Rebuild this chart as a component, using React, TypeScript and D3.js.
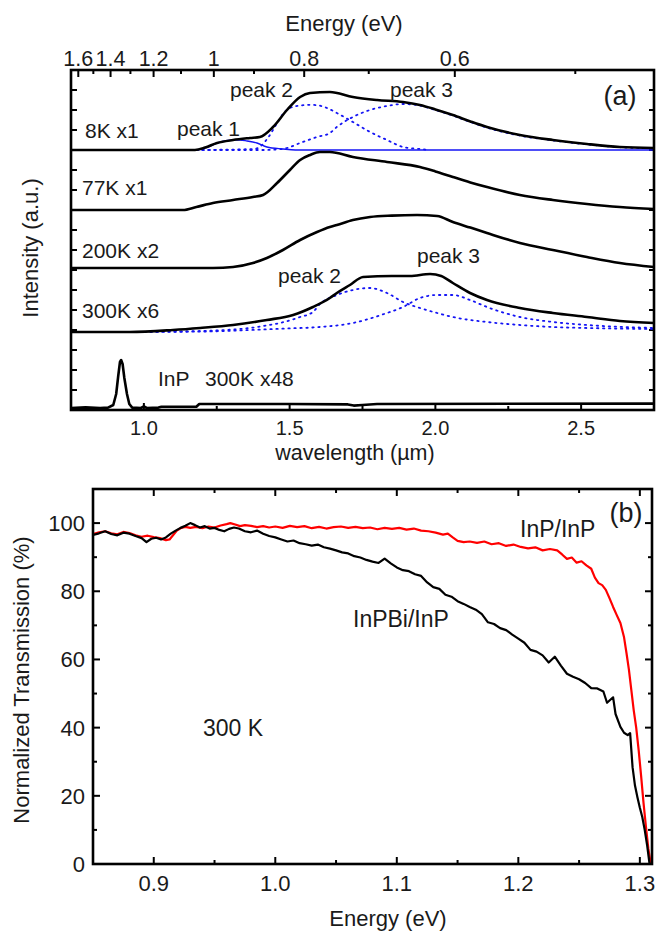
import React from 'react';
import * as d3 from 'd3';

const FONT = 'Arial, "Liberation Sans", Helvetica, sans-serif';

// ---------- Panel (a) : PL spectra vs wavelength ----------
const wlMajor = [1.0, 1.5, 2.0, 2.5];
const wlMinor = [1.25, 1.75, 2.25];
const evMajor = [1.6, 1.4, 1.2, 1.0, 0.8, 0.6];
const evMajorLabels = ['1.6', '1.4', '1.2', '1', '0.8', '0.6'];
const evMinor = [1.5, 1.3, 1.1, 0.9, 0.7, 0.5];
const intensityTicks = [1, 2, 3, 4, 5, 6, 7, 8, 9, 10, 11, 12, 13, 14, 15, 16];

const spectrumNames = ['8K x1', '77K x1', '200K x2', '300K x6', 'InP 300K x48'];
const spectrumOffsets = [13, 10, 7.1, 3.9, 0.1];

const s8K: [number, number][] = [
  [0.75, 0], [1.0, 0], [1.175, 0], [1.21, 0.12], [1.251, 0.35], [1.306, 0.5], [1.364, 0.6],
  [1.398, 0.65], [1.443, 1.15], [1.491, 2.0], [1.536, 2.65], [1.57, 2.85], [1.638, 2.9],
  [1.717, 2.65], [1.8, 2.5], [1.889, 2.4], [1.947, 2.25], [2.0, 2.03], [2.06, 1.75],
  [2.12, 1.43], [2.177, 1.15], [2.29, 0.75], [2.403, 0.5], [2.52, 0.3], [2.633, 0.15], [2.75, 0.1],
];
const s77K: [number, number][] = [
  [0.75, 0], [1.134, 0], [1.18, 0.15], [1.237, 0.35], [1.306, 0.5], [1.374, 0.65], [1.409, 0.75],
  [1.457, 1.35], [1.501, 2.0], [1.536, 2.5], [1.57, 2.75], [1.604, 2.9], [1.638, 2.9],
  [1.717, 2.65], [1.834, 2.4], [1.947, 2.15], [2.0, 1.93], [2.06, 1.65], [2.12, 1.38],
  [2.177, 1.15], [2.29, 0.75], [2.403, 0.5], [2.52, 0.3], [2.633, 0.15], [2.75, 0.05],
];
const s200K: [number, number][] = [
  [0.75, 0], [1.237, 0], [1.306, 0.05], [1.374, 0.25], [1.422, 0.5], [1.477, 0.9], [1.536, 1.4],
  [1.594, 1.8], [1.638, 2.05], [1.662, 2.15], [1.717, 2.4], [1.776, 2.55], [1.85, 2.62],
  [1.937, 2.65], [2.006, 2.6], [2.06, 2.3], [2.12, 2.02], [2.177, 1.75], [2.29, 1.25],
  [2.403, 0.9], [2.52, 0.55], [2.633, 0.25], [2.75, 0.05],
];
const s300K: [number, number][] = [
  [0.75, 0], [0.952, 0], [1.1, 0.1], [1.193, 0.2], [1.306, 0.35], [1.422, 0.6], [1.512, 0.85],
  [1.58, 1.25], [1.638, 1.7], [1.662, 1.95], [1.707, 2.35], [1.752, 2.75], [1.85, 2.8],
  [1.913, 2.8], [1.982, 2.9], [2.02, 2.8], [2.06, 2.45], [2.119, 1.95], [2.177, 1.6],
  [2.29, 1.2], [2.403, 0.95], [2.52, 0.75], [2.633, 0.55], [2.75, 0.45],
];
const sInP: [number, number][] = [
  [0.75, 0], [0.8, 0.03], [0.85, 0], [0.877, 0.02], [0.895, 0.15], [0.905, 0.7], [0.912, 1.6],
  [0.918, 2.3], [0.922, 2.4], [0.927, 2.2], [0.933, 1.5], [0.942, 0.7], [0.95, 0.2], [0.96, 0.02],
  [0.99, 0], [1.0, 0.08], [1.01, 0], [1.05, 0.02], [1.06, 0.06], [1.18, 0.06], [1.19, 0.2],
  [1.5, 0.2], [1.7, 0.18], [1.72, 0.12], [1.75, 0.15], [1.8, 0.2], [2.75, 0.22],
];
const spectra = [s8K, s77K, s200K, s300K, sInP];

// Gaussian fit components (8K): peak 1 solid, peaks 2 & 3 dotted
const fit8Kpeak1: [number, number][] = [
  [1.182, 0], [1.22, 0.15], [1.251, 0.35], [1.306, 0.5], [1.33, 0.5], [1.354, 0.45],
  [1.388, 0.35], [1.422, 0.15], [1.477, 0.05], [1.52, 0], [2.75, 0],
];
const fit8Kpeak2: [number, number][] = [
  [1.18, 0], [1.38, 0.05], [1.405, 0.25], [1.43, 0.7], [1.457, 1.35], [1.48, 1.85], [1.501, 2.1],
  [1.536, 2.22], [1.565, 2.26], [1.594, 2.24], [1.625, 2.12], [1.662, 1.85], [1.717, 1.4], [1.776, 0.9],
  [1.834, 0.5], [1.889, 0.15], [1.947, 0.05], [1.98, 0],
];
const fit8Kpeak3: [number, number][] = [
  [1.18, 0], [1.4, 0], [1.477, 0.05], [1.491, 0.1], [1.536, 0.35], [1.594, 0.65], [1.638, 0.85],
  [1.662, 1.15], [1.717, 1.65], [1.776, 2.0], [1.834, 2.2], [1.889, 2.3], [1.937, 2.25],
  [2.0, 2.0], [2.06, 1.72], [2.12, 1.4], [2.177, 1.12], [2.29, 0.72], [2.403, 0.48],
  [2.52, 0.28], [2.633, 0.14], [2.75, 0.08],
];
// Gaussian fit components (300K)
const fit300Kpeak2: [number, number][] = [
  [0.94, 0], [1.193, 0.05], [1.3, 0.12], [1.364, 0.2], [1.42, 0.32], [1.467, 0.45], [1.536, 0.75],
  [1.58, 1.0], [1.604, 1.4], [1.662, 1.85], [1.717, 2.1], [1.776, 2.2], [1.834, 1.95],
  [1.889, 1.5], [1.947, 1.2], [2.006, 0.95], [2.06, 0.75], [2.177, 0.5], [2.29, 0.35],
  [2.403, 0.25], [2.52, 0.2], [2.75, 0.15],
];
const fit300Kpeak3: [number, number][] = [
  [0.94, 0], [1.193, 0.02], [1.364, 0.1], [1.5, 0.18], [1.604, 0.25], [1.717, 0.45],
  [1.834, 0.95], [1.889, 1.25], [1.947, 1.7], [2.006, 1.85], [2.06, 1.85], [2.119, 1.6],
  [2.177, 1.25], [2.29, 0.75], [2.403, 0.5], [2.52, 0.35], [2.75, 0.2],
];

// ---------- Panel (b) : transmission vs energy ----------
const eMajor = [0.9, 1.0, 1.1, 1.2, 1.3];
const eMinor = [0.95, 1.05, 1.15, 1.25];
const tMajor = [0, 20, 40, 60, 80, 100];
const tMinor = [10, 30, 50, 70, 90];

const inpbiE = [
  0.85, 0.855, 0.86, 0.865, 0.87, 0.875, 0.88, 0.885, 0.89, 0.894, 0.898, 0.902, 0.906, 0.91,
  0.914, 0.918, 0.922, 0.926, 0.93, 0.934, 0.938, 0.942, 0.946, 0.95, 0.954, 0.958, 0.962,
  0.966, 0.97, 0.975, 0.98, 0.985, 0.99, 0.995, 1.0, 1.005, 1.01, 1.015, 1.02, 1.025, 1.03,
  1.035, 1.04, 1.045, 1.05, 1.055, 1.06, 1.065, 1.07, 1.075, 1.08, 1.085, 1.09, 1.095, 1.1,
  1.105, 1.11, 1.115, 1.12, 1.125, 1.13, 1.135, 1.14, 1.145, 1.15, 1.155, 1.16, 1.165, 1.17,
  1.175, 1.18, 1.185, 1.19, 1.195, 1.2, 1.205, 1.21, 1.215, 1.22, 1.225, 1.23, 1.235, 1.24,
  1.245, 1.25, 1.255, 1.26, 1.265, 1.27, 1.273, 1.278, 1.28, 1.284, 1.287, 1.29, 1.292, 1.294,
  1.296, 1.298, 1.3, 1.302, 1.304, 1.306, 1.308,
];
const inpbiT = [
  96.5, 97.0, 97.6, 96.8, 96.4, 97.2, 96.9, 96.2, 95.6, 94.4, 95.4, 95.7, 95.2, 95.8,
  96.9, 97.8, 98.6, 99.2, 100.0, 99.4, 98.7, 99.1, 98.4, 98.6, 98.0, 97.6, 98.3,
  98.7, 98.4, 97.6, 97.3, 97.8, 96.9, 96.2, 95.8, 95.2, 94.6, 94.9, 94.1, 93.8, 93.4,
  93.7, 92.9, 92.5, 92.0, 91.4, 91.1, 90.3, 89.9, 89.2, 88.7, 88.3, 89.6, 88.2, 87.0,
  86.2, 85.9, 85.0, 84.5, 82.6, 81.2, 80.7, 79.0, 78.4, 77.1, 76.3, 75.4, 74.6, 73.3,
  70.9, 70.4, 69.2, 68.6, 67.3, 66.1, 64.9, 62.8, 62.3, 61.2, 59.1, 60.8, 58.2, 55.8,
  54.9, 54.2, 53.1, 51.6, 51.5, 50.6, 47.3, 48.9, 44.0, 40.2, 38.5, 37.8, 38.4, 28.4,
  23.0, 19.6, 16.5, 13.8, 10.0, 5.5, 0.0,
];
const inpE = [
  0.85, 0.855, 0.86, 0.865, 0.87, 0.875, 0.88, 0.885, 0.89, 0.895, 0.9, 0.905, 0.91, 0.913,
  0.916, 0.919, 0.922, 0.926, 0.93, 0.935, 0.94, 0.945, 0.95, 0.955, 0.96, 0.963, 0.967,
  0.971, 0.975, 0.98, 0.985, 0.99, 0.995, 1.0, 1.006, 1.012, 1.018, 1.024, 1.03, 1.036,
  1.042, 1.048, 1.054, 1.06, 1.066, 1.072, 1.078, 1.084, 1.09, 1.096, 1.102, 1.108, 1.114,
  1.12, 1.126, 1.132, 1.138, 1.142, 1.146, 1.15, 1.155, 1.16, 1.166, 1.172, 1.178, 1.184,
  1.19, 1.196, 1.202, 1.208, 1.214, 1.22, 1.226, 1.232, 1.236, 1.24, 1.244, 1.248, 1.252,
  1.256, 1.26, 1.263, 1.266, 1.269, 1.272, 1.275, 1.278, 1.281, 1.284, 1.287, 1.289, 1.291,
  1.293, 1.295, 1.297, 1.299, 1.301, 1.303, 1.305, 1.307, 1.309,
];
const inpT = [
  96.8, 97.3, 97.6, 97.0, 96.7, 97.4, 97.1, 96.4, 96.0, 96.3, 95.9, 95.6, 95.0, 95.2,
  96.5, 97.8, 98.5, 98.9, 98.6, 98.9, 98.5, 99.0, 98.7, 99.3, 99.7, 100.0, 99.6,
  99.1, 99.4, 99.2, 98.8, 99.1, 98.7, 99.0, 98.6, 99.2, 98.8, 99.1, 98.5, 98.9,
  98.4, 98.8, 99.0, 98.6, 98.9, 98.5, 98.7, 98.2, 98.6, 98.3, 98.6, 98.1, 98.4,
  97.8, 97.6, 97.2, 96.6, 96.9, 95.8, 94.8, 94.4, 94.6, 94.2, 94.6, 93.8, 94.1,
  93.3, 93.7, 93.0, 92.6, 92.9, 92.0, 92.4, 92.0, 90.8, 89.5, 89.9, 88.4, 88.8,
  87.6, 86.6, 84.0, 82.4, 81.8, 80.4, 78.0, 75.4, 73.0, 70.7, 66.5, 61.9, 57.0,
  51.0, 45.0, 40.0, 33.5, 26.0, 18.0, 11.0, 4.5, 0.0,
];

// ---------- geometry ----------
const W = 657;
const H = 932;
const xA = d3.scaleLinear().domain([0.75, 2.75]).range([71, 654]);
const yA = d3.scaleLinear().domain([0, 17]).range([410, 70]);
const xB = d3.scaleLinear().domain([0.85, 1.31]).range([93, 652]);
const yB = d3.scaleLinear().domain([0, 110]).range([864, 489]);

const BLUE = '#1414f5';

function specPath(data: [number, number][], offset: number, smooth = true) {
  const g = d3
    .line<[number, number]>()
    .x((d) => xA(d[0]))
    .y((d) => yA(d[1] + offset));
  if (smooth) g.curve(d3.curveMonotoneX);
  return g(data) || '';
}

function transPath(es: number[], ts: number[]) {
  const pts: [number, number][] = es.map((e, i) => [e, ts[i]]);
  return (
    d3
      .line<[number, number]>()
      .x((d) => xB(d[0]))
      .y((d) => yB(d[1]))(pts) || ''
  );
}

const txt = (size: number): React.CSSProperties => ({ fontFamily: FONT, fontSize: size, fill: '#1a1a1a' });

export default function App() {
  const [xa0, xa1] = xA.range();
  const [ya0, ya1] = yA.range();
  const [xb0, xb1] = xB.range();
  const [yb0, yb1] = yB.range();
  const ev2wl = (e: number) => 1.24 / e;

  return (
    <svg
      width={W}
      height={H}
      viewBox={`0 0 ${W} ${H}`}
      style={{ position: 'absolute', left: 0, top: 0, background: '#fff' }}
    >
      <rect x={0} y={0} width={W} height={H} fill="#fff" />

      {/* ================= Panel (a) ================= */}
      <text x={344} y={31} textAnchor="middle" style={txt(22)}>Energy (eV)</text>

      {/* top energy axis */}
      {evMajor.map((e, i) => (
        <g key={'evM' + i}>
          <line x1={xA(ev2wl(e))} x2={xA(ev2wl(e))} y1={ya1} y2={ya1 + 7} stroke="#000" strokeWidth={2} />
          <text x={xA(ev2wl(e))} y={66} textAnchor="middle" style={txt(21.5)}>{evMajorLabels[i]}</text>
        </g>
      ))}
      {evMinor.map((e, i) => (
        <line key={'evm' + i} x1={xA(ev2wl(e))} x2={xA(ev2wl(e))} y1={ya1} y2={ya1 + 4} stroke="#000" strokeWidth={2} />
      ))}

      {/* bottom wavelength axis */}
      {wlMajor.map((w, i) => (
        <g key={'wlM' + i}>
          <line x1={xA(w)} x2={xA(w)} y1={ya0} y2={ya0 - 7} stroke="#000" strokeWidth={2} />
          <text x={xA(w)} y={435} textAnchor="middle" style={txt(20)}>{w.toFixed(1)}</text>
        </g>
      ))}
      {wlMinor.map((w, i) => (
        <line key={'wlm' + i} x1={xA(w)} x2={xA(w)} y1={ya0} y2={ya0 - 4} stroke="#000" strokeWidth={2} />
      ))}
      <text x={355} y={460} textAnchor="middle" style={txt(21.5)}>wavelength (µm)</text>

      {/* left/right intensity ticks */}
      {intensityTicks.map((t) => (
        <g key={'it' + t}>
          <line x1={xa0} x2={xa0 + 6} y1={yA(t)} y2={yA(t)} stroke="#000" strokeWidth={2} />
          <line x1={xa1} x2={xa1 - 5} y1={yA(t)} y2={yA(t)} stroke="#000" strokeWidth={2} />
        </g>
      ))}
      <text transform="translate(38,248) rotate(-90)" textAnchor="middle" style={txt(22)}>Intensity (a.u.)</text>

      {/* fit components */}
      <path d={specPath(fit8Kpeak1, spectrumOffsets[0])} fill="none" stroke={BLUE} strokeWidth={1.4} />
      {[fit8Kpeak2, fit8Kpeak3].map((f, i) => (
        <path key={'f8' + i} d={specPath(f, spectrumOffsets[0])} fill="none" stroke={BLUE} strokeWidth={1.8}
          strokeDasharray="1.4 4.6" strokeLinecap="round" />
      ))}
      {[fit300Kpeak2, fit300Kpeak3].map((f, i) => (
        <path key={'f3' + i} d={specPath(f, spectrumOffsets[3])} fill="none" stroke={BLUE} strokeWidth={1.8}
          strokeDasharray="1.4 4.6" strokeLinecap="round" />
      ))}

      {/* spectra */}
      {spectra.map((s, i) => (
        <path key={'sp' + i} d={specPath(s, spectrumOffsets[i], i !== 4)} fill="none" stroke="#000" strokeWidth={2.6}
          strokeLinejoin="round" />
      ))}

      {/* frame a */}
      <rect x={xa0} y={ya1} width={xa1 - xa0} height={ya0 - ya1} fill="none" stroke="#000" strokeWidth={2.6} />

      {/* labels a */}
      <text x={85} y={138} style={txt(21)}>{spectrumNames[0]}</text>
      <text x={82} y={195} style={txt(21)}>{spectrumNames[1]}</text>
      <text x={82} y={258} style={txt(21)}>{spectrumNames[2]}</text>
      <text x={82} y={318} style={txt(21)}>{spectrumNames[3]}</text>
      <text x={158} y={386} style={txt(21)}>InP</text>
      <text x={205} y={386} style={txt(21)}>300K x48</text>
      <text x={177} y={136} style={txt(21)}>peak 1</text>
      <text x={230} y={97} style={txt(21)}>peak 2</text>
      <text x={390} y={97} style={txt(21)}>peak 3</text>
      <text x={278} y={283} style={txt(21)}>peak 2</text>
      <text x={417} y={263} style={txt(21)}>peak 3</text>
      <text x={620} y={105} textAnchor="middle" style={txt(27)}>(a)</text>

      {/* ================= Panel (b) ================= */}
      {eMajor.map((e, i) => (
        <g key={'eM' + i}>
          <line x1={xB(e)} x2={xB(e)} y1={yb0} y2={yb0 - 7} stroke="#000" strokeWidth={2} />
          <line x1={xB(e)} x2={xB(e)} y1={yb1} y2={yb1 + 7} stroke="#000" strokeWidth={2} />
          <text x={xB(e)} y={891} textAnchor="middle" style={txt(22)}>{e.toFixed(1)}</text>
        </g>
      ))}
      {eMinor.map((e, i) => (
        <g key={'em' + i}>
          <line x1={xB(e)} x2={xB(e)} y1={yb0} y2={yb0 - 4} stroke="#000" strokeWidth={2} />
          <line x1={xB(e)} x2={xB(e)} y1={yb1} y2={yb1 + 4} stroke="#000" strokeWidth={2} />
        </g>
      ))}
      {tMajor.map((t, i) => (
        <g key={'tM' + i}>
          <line x1={xb0} x2={xb0 + 7} y1={yB(t)} y2={yB(t)} stroke="#000" strokeWidth={2} />
          <line x1={xb1} x2={xb1 - 7} y1={yB(t)} y2={yB(t)} stroke="#000" strokeWidth={2} />
          <text x={85} y={yB(t) + 8} textAnchor="end" style={txt(22)}>{t}</text>
        </g>
      ))}
      {tMinor.map((t, i) => (
        <g key={'tm' + i}>
          <line x1={xb0} x2={xb0 + 4} y1={yB(t)} y2={yB(t)} stroke="#000" strokeWidth={2} />
          <line x1={xb1} x2={xb1 - 4} y1={yB(t)} y2={yB(t)} stroke="#000" strokeWidth={2} />
        </g>
      ))}

      <path d={transPath(inpE, inpT)} fill="none" stroke="#ff0000" strokeWidth={2.2} strokeLinejoin="round" />
      <path d={transPath(inpbiE, inpbiT)} fill="none" stroke="#000" strokeWidth={2.2} strokeLinejoin="round" />

      <rect x={xb0} y={yb1} width={xb1 - xb0} height={yb0 - yb1} fill="none" stroke="#000" strokeWidth={2.6} />

      <text transform="translate(29,680) rotate(-90)" textAnchor="middle" style={txt(22)}>Normalized Transmission (%)</text>
      <text x={388} y={926} textAnchor="middle" style={txt(22)}>Energy (eV)</text>
      <text x={626} y={522} textAnchor="middle" style={txt(27)}>(b)</text>
      <text x={520} y={537} style={txt(23)}>InP/InP</text>
      <text x={353} y={627} style={txt(23)}>InPBi/InP</text>
      <text x={203} y={736} style={txt(23)}>300 K</text>
    </svg>
  );
}
